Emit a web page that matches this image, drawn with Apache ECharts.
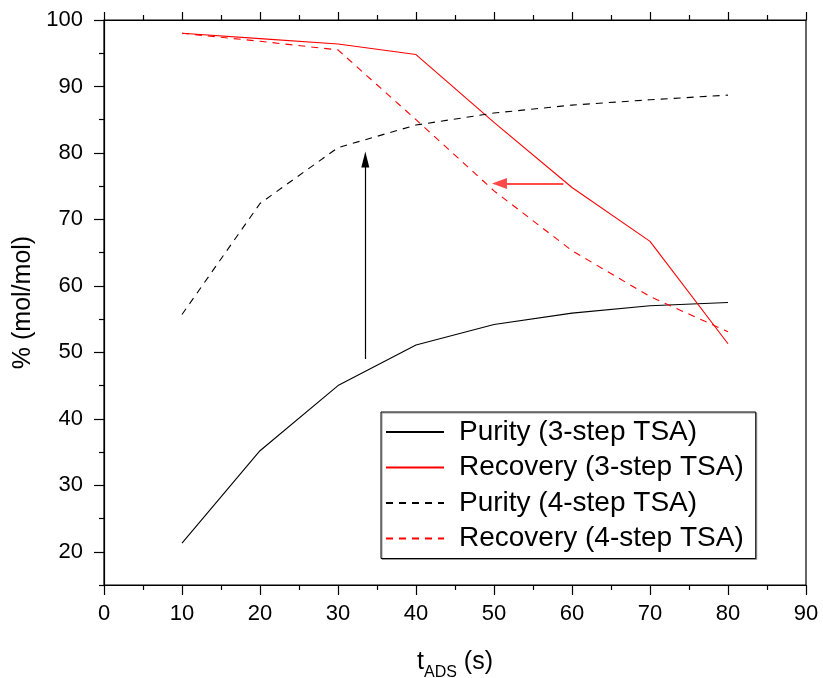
<!DOCTYPE html>
<html>
<head>
<meta charset="utf-8">
<script src="https://cdn.jsdelivr.net/npm/echarts@6/dist/echarts.min.js"></script>
<style>html,body{margin:0;padding:0;background:#fff}#c{width:823px;height:678px}</style>
</head>
<body>
<div id="c"></div>
<script>
// ---- data ----
var tAds = [10, 20, 30, 40, 50, 60, 70, 80];
var purity3 = [21.3, 35.2, 45.0, 51.1, 54.2, 55.9, 57.0, 57.5];
var recovery3 = [98.0, 97.2, 96.4, 94.8, 84.6, 74.8, 66.7, 51.3];
var purity4 = [55.7, 72.4, 80.8, 84.2, 86.0, 87.2, 88.0, 88.7];
var recovery4 = [98.0, 96.8, 95.5, 85.0, 74.3, 65.3, 58.4, 53.1];
var seriesNames = ['Purity (3-step TSA)', 'Recovery (3-step TSA)', 'Purity (4-step TSA)', 'Recovery (4-step TSA)'];
var yMajorTicks = [20, 30, 40, 50, 60, 70, 80, 90, 100];
var yMinorTicks = [15, 25, 35, 45, 55, 65, 75, 85, 95];
// annotation arrows (data coordinates)
var arrowUp = { x: 33.5, from: 49.0, to: 79.0 };
var arrowLeft = { y: 75.4, from: 58.9, to: 50.7 };

function pairs(xs, ys) { return xs.map(function (x, i) { return [x, ys[i]]; }); }

var FONT = 'Liberation Sans, Arial, sans-serif';
var chart = echarts.init(document.getElementById('c'), null, { renderer: 'canvas' });
var option = {
  animation: false,
  backgroundColor: '#fff',
  textStyle: { fontFamily: FONT },
  grid: { left: 104, top: 20, right: 17, bottom: 93, containLabel: false, outerBoundsMode: 'none',
    show: true, borderColor: '#000', borderWidth: 1.2, backgroundColor: 'transparent' },
  xAxis: [{
    type: 'value', min: 0, max: 90, interval: 10, position: 'bottom',
    name: '{a|t}{b|ADS}{a| (s)}', nameLocation: 'middle', nameGap: 60,
    nameTextStyle: { rich: {
      a: { fontSize: 25, fontFamily: FONT, color: '#000', lineHeight: 30, verticalAlign: 'bottom' },
      b: { fontSize: 16, fontFamily: FONT, color: '#000', lineHeight: 14, verticalAlign: 'bottom', padding: [0, 0, -6, 0] }
    } },
    axisLine: { lineStyle: { color: '#000', width: 1.2 } },
    axisTick: { length: 10, lineStyle: { color: '#000', width: 1.2 } },
    minorTick: { show: true, splitNumber: 2, length: 5, lineStyle: { color: '#000', width: 1.2 } },
    axisLabel: { fontSize: 22, color: '#000', margin: 18, fontFamily: FONT },
    splitLine: { show: false }
  }, {
    type: 'value', min: 0, max: 90, interval: 10, position: 'top',
    axisLine: { lineStyle: { color: '#000', width: 1.2 } },
    axisTick: { length: 8, lineStyle: { color: '#000', width: 1.2 } },
    minorTick: { show: true, splitNumber: 2, length: 5, lineStyle: { color: '#000', width: 1.2 } },
    axisLabel: { show: false },
    splitLine: { show: false }
  }],
  yAxis: [{
    type: 'value', min: 15, max: 100, position: 'left',
    name: '% (mol/mol)', nameLocation: 'middle', nameGap: 66,
    nameTextStyle: { fontSize: 25, color: '#000', fontFamily: FONT },
    axisLine: { lineStyle: { color: '#000', width: 1.2 } },
    axisTick: { length: 10, customValues: yMajorTicks, lineStyle: { color: '#000', width: 1.2 } },
    axisLabel: { fontSize: 22, color: '#000', margin: 21, customValues: yMajorTicks, fontFamily: FONT },
    splitLine: { show: false }
  }, {
    type: 'value', min: 15, max: 100, position: 'left',
    axisLine: { show: false },
    axisTick: { length: 5, customValues: yMinorTicks, lineStyle: { color: '#000', width: 1.2 } },
    axisLabel: { show: false, customValues: yMinorTicks },
    splitLine: { show: false }
  }],
  legend: {
    orient: 'vertical', left: 381, top: 412,
    itemWidth: 58, itemHeight: 14, itemGap: 5.5,
    padding: [5, 12, 5, 4],
    borderColor: '#000', borderWidth: 1, backgroundColor: '#fff',
    shadowColor: '#999', shadowOffsetX: 1, shadowOffsetY: 1, shadowBlur: 0,
    itemStyle: { opacity: 0, borderWidth: 0 },
    textStyle: { fontSize: 28, color: '#000', fontFamily: FONT, lineHeight: 30, padding: [0, 0, 0, 10] },
    data: [
      { name: seriesNames[0], lineStyle: { width: 2 } },
      { name: seriesNames[1] },
      { name: seriesNames[2] },
      { name: seriesNames[3] }
    ]
  },
  series: [{
    name: seriesNames[0], type: 'line', data: pairs(tAds, purity3), showSymbol: false, symbol: 'none',
    lineStyle: { color: '#000', width: 1.1 }, itemStyle: { color: '#000' },
    markLine: {
      silent: true, symbol: ['none', 'triangle'], symbolSize: [8, 16],
      label: { show: false },
      lineStyle: { color: '#000', width: 1.2, type: 'solid' },
      emphasis: { disabled: true },
      data: [[{ coord: [arrowUp.x, arrowUp.from] }, { coord: [arrowUp.x, arrowUp.to] }]]
    }
  }, {
    name: seriesNames[1], type: 'line', data: pairs(tAds, recovery3), showSymbol: false, symbol: 'none',
    lineStyle: { color: '#ff0000', width: 1.1 }, itemStyle: { color: '#ff0000' },
    markLine: {
      silent: true, symbol: ['none', 'triangle'], symbolSize: [11, 15],
      label: { show: false },
      lineStyle: { color: '#ff4a4a', width: 2, type: 'solid' },
      emphasis: { disabled: true },
      data: [[{ coord: [arrowLeft.from, arrowLeft.y] }, { coord: [arrowLeft.to, arrowLeft.y] }]]
    }
  }, {
    name: seriesNames[2], type: 'line', data: pairs(tAds, purity4), showSymbol: false, symbol: 'none',
    lineStyle: { color: '#000', width: 1.1, type: [7, 6] }, itemStyle: { color: '#000' }
  }, {
    name: seriesNames[3], type: 'line', data: pairs(tAds, recovery4), showSymbol: false, symbol: 'none',
    lineStyle: { color: '#ff0000', width: 1.1, type: [7, 6] }, itemStyle: { color: '#ff0000' }
  }]
};
chart.setOption(option);
</script>
</body>
</html>
